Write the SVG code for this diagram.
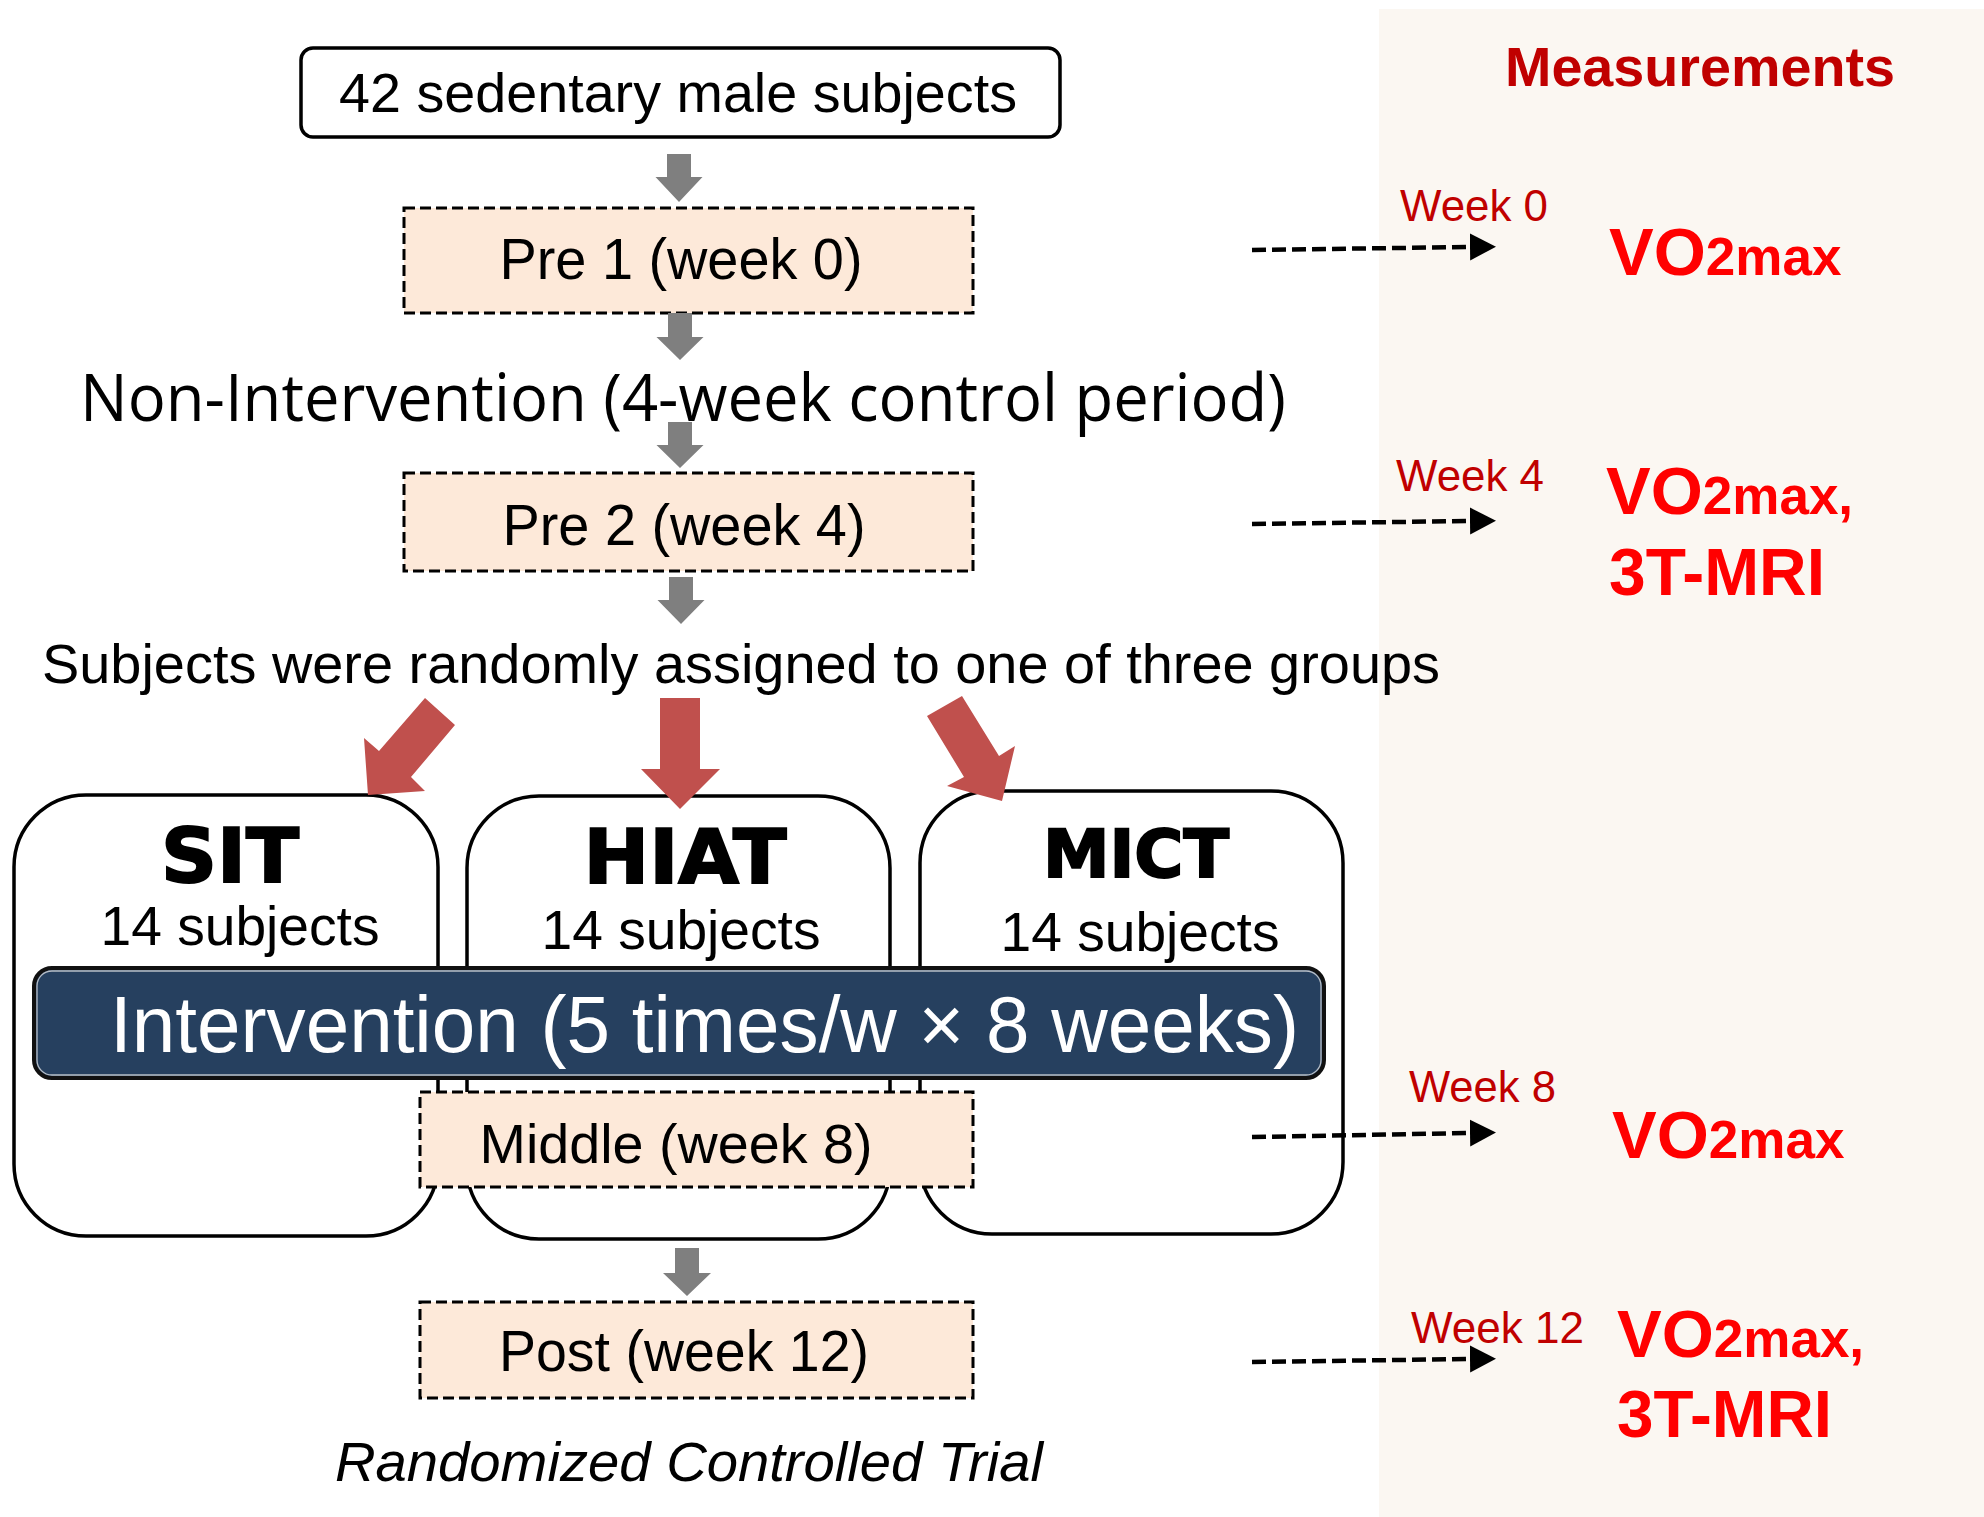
<svg xmlns="http://www.w3.org/2000/svg" width="1984" height="1517" viewBox="0 0 1984 1517">
  <defs>
    <style>
      .sans { font-family: "Liberation Sans", Arial, sans-serif; }
      .seg { font-family: "Open Sans", "Liberation Sans", sans-serif; }
      .heavy { font-family: "DejaVu Sans", "Liberation Sans", sans-serif; font-weight: bold; fill: #000; stroke: #000; stroke-width: 2; }
      .solidbox { fill: #ffffff; stroke: #000; stroke-width: 3.5; }
      .dashbox { fill: #FDE9D9; stroke: #000; stroke-width: 3; stroke-dasharray: 11 5; }
      .grayarrow { fill: #7F7F7F; }
      .redarrow { fill: #C0504D; }
      .dashline { stroke: #000; stroke-width: 4.5; stroke-dasharray: 14 6; fill: none; }
      .week { font-family: "Liberation Sans", Arial, sans-serif; font-size: 44px; fill: #C00000; }
      .meas { font-family: "Liberation Sans", Arial, sans-serif; font-weight: bold; fill: #FF0000; }
    </style>
    <marker id="head" markerUnits="userSpaceOnUse" markerWidth="28" markerHeight="28" refX="0" refY="13.5" orient="auto">
      <path d="M0,0 L26,13.5 L0,27 Z" fill="#000"/>
    </marker>
  </defs>

  <!-- right measurements panel -->
  <rect x="1379" y="9" width="605" height="1508" fill="#FBF7F2"/>

  <g id="top-subjects">
    <rect class="solidbox" x="301" y="48" width="759" height="89" rx="12"/>
    <text class="sans" x="678" y="112" font-size="56" text-anchor="middle" textLength="678" lengthAdjust="spacingAndGlyphs">42 sedentary male subjects</text>
  </g>

  <g id="pre1">
    <rect class="dashbox" x="404" y="208" width="569" height="105"/>
    <text class="sans" x="681" y="279" font-size="58" text-anchor="middle" textLength="363" lengthAdjust="spacingAndGlyphs">Pre 1 (week 0)</text>
  </g>

  <g id="non-intervention">
    <text class="seg" x="683" y="421" font-size="66" text-anchor="middle" textLength="1206" lengthAdjust="spacingAndGlyphs">Non-Intervention (4-week control period)</text>
  </g>

  <g id="pre2">
    <rect class="dashbox" x="404" y="473" width="569" height="98"/>
    <text class="sans" x="684" y="545" font-size="58" text-anchor="middle" textLength="363" lengthAdjust="spacingAndGlyphs">Pre 2 (week 4)</text>
  </g>

  <g id="randomized-note">
    <text class="sans" x="741" y="683" font-size="56" text-anchor="middle" textLength="1398" lengthAdjust="spacingAndGlyphs">Subjects were randomly assigned to one of three groups</text>
  </g>

  <g id="group-sit">
    <rect class="solidbox" x="14" y="795" width="424" height="441" rx="72"/>
    <text class="heavy" x="230" y="882" font-size="74" text-anchor="middle" textLength="138" lengthAdjust="spacingAndGlyphs">SIT</text>
    <text class="sans" x="240" y="945" font-size="55" text-anchor="middle" textLength="279" lengthAdjust="spacingAndGlyphs">14 subjects</text>
  </g>

  <g id="group-hiat">
    <rect class="solidbox" x="467" y="796" width="423" height="443" rx="72"/>
    <text class="heavy" x="685" y="883" font-size="75" text-anchor="middle" textLength="203" lengthAdjust="spacingAndGlyphs">HIAT</text>
    <text class="sans" x="681" y="949" font-size="55" text-anchor="middle" textLength="279" lengthAdjust="spacingAndGlyphs">14 subjects</text>
  </g>

  <g id="group-mict">
    <rect class="solidbox" x="920" y="791" width="423" height="443" rx="72"/>
    <text class="heavy" x="1136" y="877" font-size="65" text-anchor="middle" textLength="186" lengthAdjust="spacingAndGlyphs">MICT</text>
    <text class="sans" x="1140" y="951" font-size="55" text-anchor="middle" textLength="279" lengthAdjust="spacingAndGlyphs">14 subjects</text>
  </g>

  <g id="intervention">
    <rect x="34" y="968" width="1290" height="110" rx="18" fill="#26405F" stroke="#111" stroke-width="4"/>
    <rect x="37" y="971" width="1284" height="104" rx="15" fill="none" stroke="#b8bec6" stroke-width="1.3"/>
    <text class="sans" x="110" y="1052" font-size="79" fill="#ffffff" textLength="1189" lengthAdjust="spacingAndGlyphs">Intervention (5 times/w × 8 weeks)</text>
  </g>

  <g id="middle">
    <rect class="dashbox" x="420" y="1092" width="553" height="95"/>
    <text class="sans" x="676" y="1163" font-size="56" text-anchor="middle" textLength="393" lengthAdjust="spacingAndGlyphs">Middle (week 8)</text>
  </g>

  <g id="post">
    <rect class="dashbox" x="420" y="1302" width="553" height="96"/>
    <text class="sans" x="684" y="1371" font-size="58" text-anchor="middle" textLength="370" lengthAdjust="spacingAndGlyphs">Post (week 12)</text>
  </g>

  <g id="caption">
    <text class="sans" x="689" y="1481" font-size="56" font-style="italic" text-anchor="middle" textLength="708" lengthAdjust="spacingAndGlyphs">Randomized Controlled Trial</text>
  </g>

  <g id="measurements">
    <text class="sans" x="1700" y="86" font-size="55" font-weight="bold" fill="#C00000" text-anchor="middle" textLength="390" lengthAdjust="spacingAndGlyphs">Measurements</text>

    <text class="week" x="1400" y="221" textLength="148" lengthAdjust="spacingAndGlyphs">Week 0</text>
    <text class="meas" x="1609" y="275"><tspan font-size="67">VO</tspan><tspan font-size="53">2max</tspan></text>

    <text class="week" x="1396" y="491" textLength="148" lengthAdjust="spacingAndGlyphs">Week 4</text>
    <text class="meas" x="1606" y="514"><tspan font-size="67">VO</tspan><tspan font-size="53">2max,</tspan></text>
    <text class="meas" x="1609" y="595" font-size="67" textLength="216" lengthAdjust="spacingAndGlyphs">3T-MRI</text>

    <text class="week" x="1409" y="1102" textLength="147" lengthAdjust="spacingAndGlyphs">Week 8</text>
    <text class="meas" x="1612" y="1158"><tspan font-size="67">VO</tspan><tspan font-size="53">2max</tspan></text>

    <text class="week" x="1411" y="1343" textLength="173" lengthAdjust="spacingAndGlyphs">Week 12</text>
    <text class="meas" x="1617" y="1357"><tspan font-size="67">VO</tspan><tspan font-size="53">2max,</tspan></text>
    <text class="meas" x="1617" y="1437" font-size="67" textLength="215" lengthAdjust="spacingAndGlyphs">3T-MRI</text>
  </g>

  <g id="connectors">
    <!-- gray flow arrows -->
    <path class="grayarrow" d="M667,154 H691 V177 H702.5 L679,202 L655.5,177 H667 Z"/>
    <path class="grayarrow" d="M668,313 H692 V337 H703.5 L680,360 L656.5,337 H668 Z"/>
    <path class="grayarrow" d="M668,422 H692 V445 H703.5 L680,468 L656.5,445 H668 Z"/>
    <path class="grayarrow" d="M669,577 H693 V600 H704.5 L681,624 L657.5,600 H669 Z"/>
    <path class="grayarrow" d="M675,1248 H699 V1273 H711 L687,1296 L663,1273 H675 Z"/>

    <!-- red assignment arrows -->
    <polygon class="redarrow" points="425,698 455,725 411,777 425,791 368,795 364,738 379,751"/>
    <polygon class="redarrow" points="660,698 700,698 700,769 720,769 680,809 641,769 660,769"/>
    <polygon class="redarrow" points="927,716 962,696 999,756 1015,746 1002,801 947,786 964,777"/>

    <!-- dashed measurement arrows -->
    <line class="dashline" x1="1252" y1="250" x2="1470" y2="247" marker-end="url(#head)"/>
    <line class="dashline" x1="1252" y1="524" x2="1470" y2="521" marker-end="url(#head)"/>
    <line class="dashline" x1="1252" y1="1137" x2="1470" y2="1133" marker-end="url(#head)"/>
    <line class="dashline" x1="1252" y1="1362" x2="1470" y2="1359" marker-end="url(#head)"/>
  </g>
</svg>
